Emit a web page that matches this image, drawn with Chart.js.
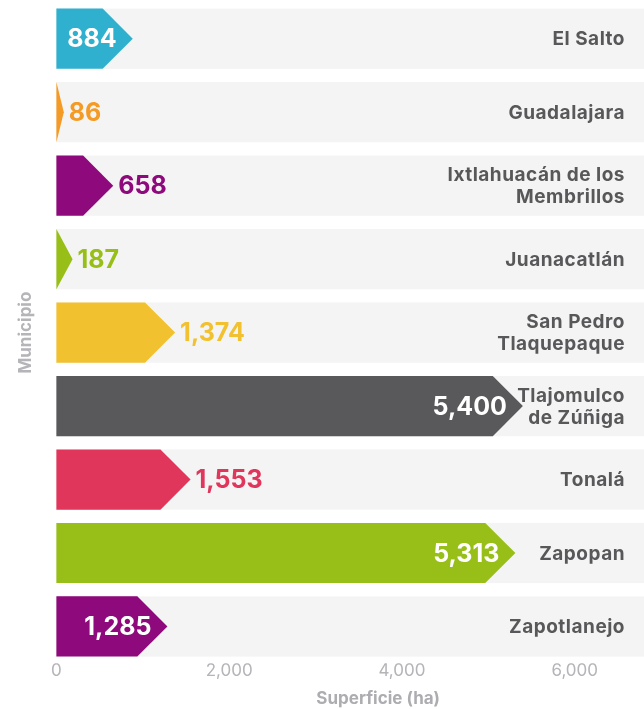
<!DOCTYPE html>
<html>
<head>
<meta charset="utf-8">
<script src="https://cdn.jsdelivr.net/npm/chart.js@4.4.1/dist/chart.umd.min.js"></script>
<style>
    html, body { margin: 0; padding: 0; background: #ffffff; overflow: hidden; }
    #contenedor { width: 700px; height: 709px; }
</style>
</head>
<body>
<div id="contenedor"><canvas id="superficieChart" width="700" height="709"></canvas></div>
<script>
// Superficie por municipio (ha)
var municipios = ['El Salto', 'Guadalajara', ['Ixtlahuacán de los', 'Membrillos'], 'Juanacatlán',
    ['San Pedro', 'Tlaquepaque'], ['Tlajomulco', 'de Zúñiga'], 'Tonalá', 'Zapopan', 'Zapotlanejo'];
var superficie = [884, 86, 658, 187, 1374, 5400, 1553, 5313, 1285];
var ticksX = [0, 2000, 4000, 6000];

// estilo de cada barra
var colores = ['#2fb0cf', '#f39b26', '#8e0a7c', '#97bf17', '#f2c12f', '#59595b', '#e0365c', '#97bf17', '#8e0a7c'];
var etiquetaDentro = [true, false, false, false, false, true, false, true, true];

var fuente = 'Inter, "Open Sans", sans-serif';

function formato(v) {
    return v.toLocaleString('en-US');
}

// bandas grises, barras en forma de flecha, valores y nombres de municipio
var flechas = {
    id: 'flechas',
    beforeDatasetsDraw: function (chart) {
        var ctx = chart.ctx;
        var area = chart.chartArea;
        var meta = chart.getDatasetMeta(0);
        ctx.save();
        ctx.fillStyle = '#f4f4f4';
        meta.data.forEach(function (bar) {
            ctx.fillRect(area.left, bar.y - bar.height / 2, chart.width - area.left, bar.height);
        });
        ctx.restore();
    },
    beforeDatasetDraw: function (chart, args) {
        var ctx = chart.ctx;
        ctx.save();
        args.meta.data.forEach(function (bar, i) {
            var arriba = bar.y - bar.height / 2;
            var abajo = bar.y + bar.height / 2;
            var punta = Math.min(bar.height / 2, bar.x - bar.base);
            var cuello = bar.x - punta;
            ctx.beginPath();
            ctx.moveTo(bar.base, arriba);
            ctx.lineTo(cuello, arriba);
            ctx.lineTo(bar.x, bar.y);
            ctx.lineTo(cuello, abajo);
            ctx.lineTo(bar.base, abajo);
            ctx.closePath();
            ctx.fillStyle = colores[i];
            ctx.fill();
        });
        ctx.restore();
        return false;
    },
    afterDatasetsDraw: function (chart) {
        var ctx = chart.ctx;
        var meta = chart.getDatasetMeta(0);
        var escalaY = chart.scales.y;
        ctx.save();
        ctx.textBaseline = 'middle';

        // valores
        ctx.font = 'bold 25px ' + fuente;
        meta.data.forEach(function (bar, i) {
            var texto = formato(superficie[i]);
            if (etiquetaDentro[i]) {
                ctx.fillStyle = '#ffffff';
                ctx.textAlign = 'right';
                ctx.fillText(texto, bar.x - 16, bar.y + 1);
            } else {
                ctx.fillStyle = colores[i];
                ctx.textAlign = 'left';
                ctx.fillText(texto, bar.x + 5, bar.y + 1);
            }
        });

        // municipios, alineados a la derecha dentro de la banda
        ctx.font = 'bold 19px ' + fuente;
        ctx.letterSpacing = '0.5px';
        ctx.fillStyle = '#58585a';
        ctx.textAlign = 'right';
        chart.data.labels.forEach(function (nombre, i) {
            var lineas = [].concat(nombre);
            var yc = escalaY.getPixelForValue(i);
            var alto = 22;
            lineas.forEach(function (linea, j) {
                var y = yc + (j - (lineas.length - 1) / 2) * alto;
                ctx.fillText(linea, 625, y + 1);
            });
        });
        ctx.restore();
    }
};

var ctx1 = document.getElementById('superficieChart').getContext('2d');
var superficieChart = new Chart(ctx1, {
    type: 'bar',
    data: {
        labels: municipios,
        datasets: [
            {
                label: 'Superficie (ha)',
                data: superficie,
                backgroundColor: colores,
                categoryPercentage: 1,
                barPercentage: 0.82
            }
        ]
    },
    options: {
        indexAxis: 'y',
        responsive: false,
        animation: false,
        layout: {
            padding: { left: 12, top: 2, right: 0, bottom: 0 }
        },
        plugins: {
            legend: { display: false },
            tooltip: { enabled: false }
        },
        scales: {
            x: {
                min: 0,
                max: 7450,
                grid: { display: false, drawTicks: false },
                border: { display: false },
                afterBuildTicks: function (axis) {
                    axis.ticks = ticksX.map(function (v) { return { value: v }; });
                },
                ticks: {
                    padding: -3,
                    color: '#b4b4b9',
                    font: { family: fuente, size: 17 },
                    callback: function (v) { return formato(v); }
                },
                title: {
                    display: true,
                    text: 'Superficie (ha)',
                    color: '#acacb1',
                    padding: { top: 11, bottom: 0 },
                    font: { family: fuente, size: 17, weight: 'bold' }
                }
            },
            y: {
                grid: { display: false, drawTicks: false },
                border: { display: false },
                ticks: { display: false },
                title: {
                    display: true,
                    text: 'Municipio',
                    color: '#b4b4b9',
                    padding: { top: 4, bottom: 20 },
                    font: { family: fuente, size: 17, weight: 'bold' }
                }
            }
        }
    },
    plugins: [flechas]
});
</script>
</body>
</html>
